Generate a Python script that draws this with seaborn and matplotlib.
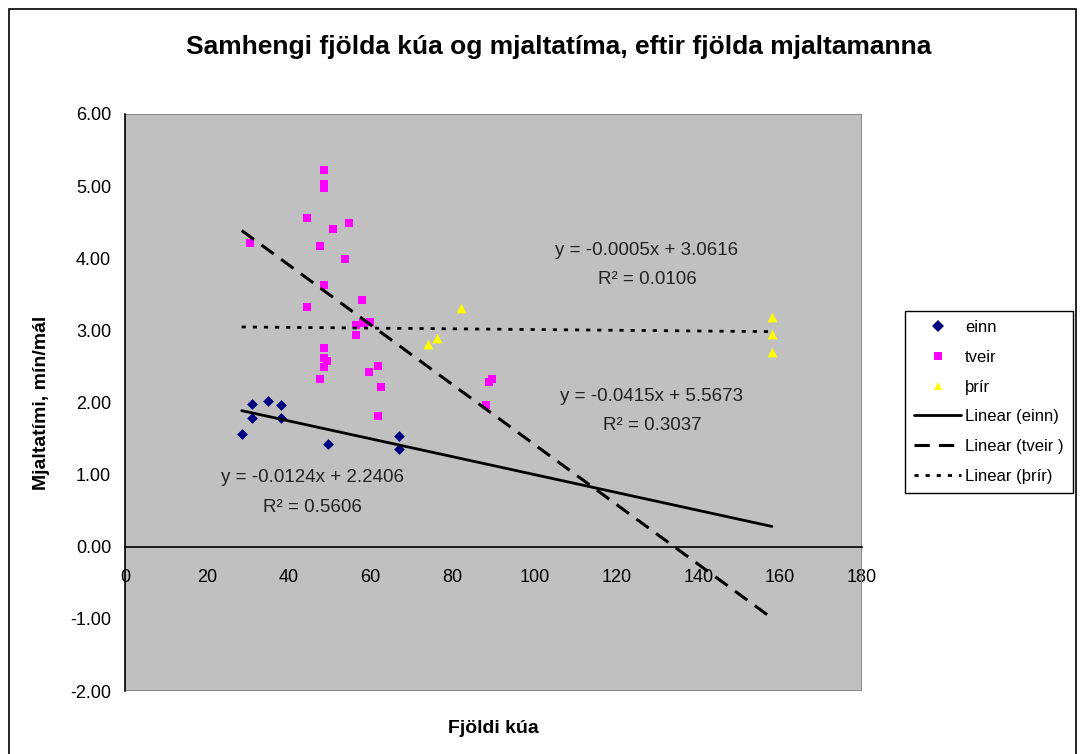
import matplotlib
matplotlib.use("Agg")
import matplotlib.pyplot as plt
from matplotlib.lines import Line2D
from matplotlib.patches import Rectangle
import seaborn as sns
import pandas as pd
import numpy as np

# data
einn_x = [31, 35, 38, 31, 38, 28.5, 49.5, 67, 67]
einn_y = [1.98, 2.02, 1.97, 1.78, 1.78, 1.57, 1.42, 1.54, 1.35]

tveir_x = [48.7, 48.7, 48.7, 44.5, 54.7, 50.8, 30.5, 47.6, 53.7, 48.7,
           57.9, 44.5, 56.4, 58.1, 59.8, 56.4, 48.7, 48.7, 49.4, 48.7,
           47.6, 61.9, 59.7, 62.5, 61.9, 89.6, 89.0, 88.2]
tveir_y = [5.23, 5.03, 4.97, 4.56, 4.49, 4.40, 4.21, 4.17, 3.99, 3.63,
           3.42, 3.33, 3.08, 3.10, 3.12, 2.94, 2.76, 2.62, 2.57, 2.49,
           2.33, 2.50, 2.42, 2.21, 1.81, 2.32, 2.29, 1.96]

thrir_x = [82.1, 76.1, 73.9, 158, 158, 158]
thrir_y = [3.31, 2.89, 2.81, 3.19, 2.95, 2.70]

series_names = ["einn", "tveir", "þrír"]
trend_names = ["Linear (einn)", "Linear (tveir )", "Linear (þrír)"]
# trendline coefficients as printed on the chart
trend_slope = [-0.0124, -0.0415, -0.0005]
trend_icept = [2.2406, 5.5673, 3.0616]
trend_r2 = [0.5606, 0.3037, 0.0106]

yticks = [-2, -1, 0, 1, 2, 3, 4, 5, 6]
xticks = [0, 20, 40, 60, 80, 100, 120, 140, 160, 180]

sns.set_style("white")
plt.rcParams["font.family"] = ["Liberation Sans", "DejaVu Sans"]
plt.rcParams["axes.unicode_minus"] = False
plt.rcParams["text.color"] = "black"
plt.rcParams["axes.labelcolor"] = "black"

fig = plt.figure(figsize=(10.82, 7.54), dpi=100)
ax = fig.add_axes([125 / 1082, 1 - 691 / 754, 737 / 1082, 577 / 754])
ax.set_facecolor("#C0C0C0")

colors = ["#000080", "#FF00FF", "#FFFF00"]
markers = ["D", "s", "^"]
sizes = [30, 36, 50]
xs = [einn_x, tveir_x, thrir_x]
ys = [einn_y, tveir_y, thrir_y]

for name, x, y, c, m, s in zip(series_names, xs, ys, colors, markers, sizes):
    df = pd.DataFrame({"x": x, "y": y})
    sns.scatterplot(data=df, x="x", y="y", color=c, marker=m, s=s,
                    linewidth=0, ax=ax, zorder=3)

# trendlines span the full x range of the data
all_x = np.concatenate([einn_x, tveir_x, thrir_x])
line_x = np.array([all_x.min(), all_x.max()])
styles = ["-", (0, (5, 3)), (0, (1.5, 2.5))]
widths = [2.0, 2.2, 2.0]
for k in range(3):
    ax.plot(line_x, trend_slope[k] * line_x + trend_icept[k], color="black",
            linestyle=styles[k], linewidth=widths[k], zorder=4)

# equation labels
eq_pos = [(45.7, 0.96), (128.7, 2.09), (127.5, 4.11)]
for k in range(3):
    ex, ey = eq_pos[k]
    sign = "+" if trend_icept[k] >= 0 else "-"
    ax.text(ex, ey, f"y = {trend_slope[k]:.4f}x {sign} {abs(trend_icept[k]):.4f}",
            ha="center", va="center", fontsize=13.5, color="#222222", zorder=5)
    ax.text(ex, ey - 0.41, f"R² = {trend_r2[k]:.4f}",
            ha="center", va="center", fontsize=13.5, color="#222222", zorder=5)

ax.set_xlim(0, 180)
ax.set_ylim(-2, 6)
ax.set_xticks(xticks)
ax.set_yticks(yticks)
ax.set_yticklabels([f"{v:.2f}" for v in yticks])
ax.set_xticklabels([str(v) for v in xticks])

for side in ["top", "right"]:
    ax.spines[side].set_visible(False)
ax.spines["bottom"].set_position(("data", 0))
ax.spines["bottom"].set_color("black")
ax.spines["left"].set_color("black")
ax.spines["bottom"].set_linewidth(1.2)
ax.spines["left"].set_linewidth(1.2)
ax.add_patch(Rectangle((0, 0), 1, 1, transform=ax.transAxes, fill=False,
                       edgecolor="#808080", linewidth=1.2, zorder=1))

ax.tick_params(axis="both", direction="out", length=5, width=1, colors="black",
               labelsize=13)
ax.tick_params(axis="x", pad=11)
ax.tick_params(axis="y", pad=5)

ax.set_xlabel("Fjöldi kúa", fontsize=14, fontweight="bold")
ax.set_ylabel("Mjaltatími, mín/mál", fontsize=14, fontweight="bold")
ax.xaxis.set_label_coords(0.5, -0.05)
ax.yaxis.set_label_coords(-0.102, 0.5)

fig.text(0.516, 1 - 47 / 754, "Samhengi fjölda kúa og mjaltatíma, eftir fjölda mjaltamanna",
         ha="center", va="center", fontsize=19, fontweight="bold", color="black")

handles = []
for c, m in zip(colors, markers):
    handles.append(Line2D([], [], linestyle="none", marker=m, color=c,
                          markersize=6, markeredgewidth=0))
for k in range(3):
    handles.append(Line2D([], [], color="black", linestyle=styles[k],
                          linewidth=widths[k]))
leg = fig.legend(handles, series_names + trend_names, loc="upper left",
                 bbox_to_anchor=(905 / 1082, 1 - 311 / 754), fontsize=12,
                 frameon=True, fancybox=False, edgecolor="black",
                 framealpha=1, handlelength=2.8, handletextpad=0.25,
                 labelspacing=0.88, borderpad=0.55, borderaxespad=0)
leg.get_frame().set_linewidth(1.0)

# outer chart border
fig.add_artist(Rectangle((9 / 1082, -0.01), 1067 / 1082, 0.999 - 8 / 754 + 0.01,
                         transform=fig.transFigure, fill=False,
                         edgecolor="black", linewidth=1.2))

fig.savefig("out.png", dpi=100)
